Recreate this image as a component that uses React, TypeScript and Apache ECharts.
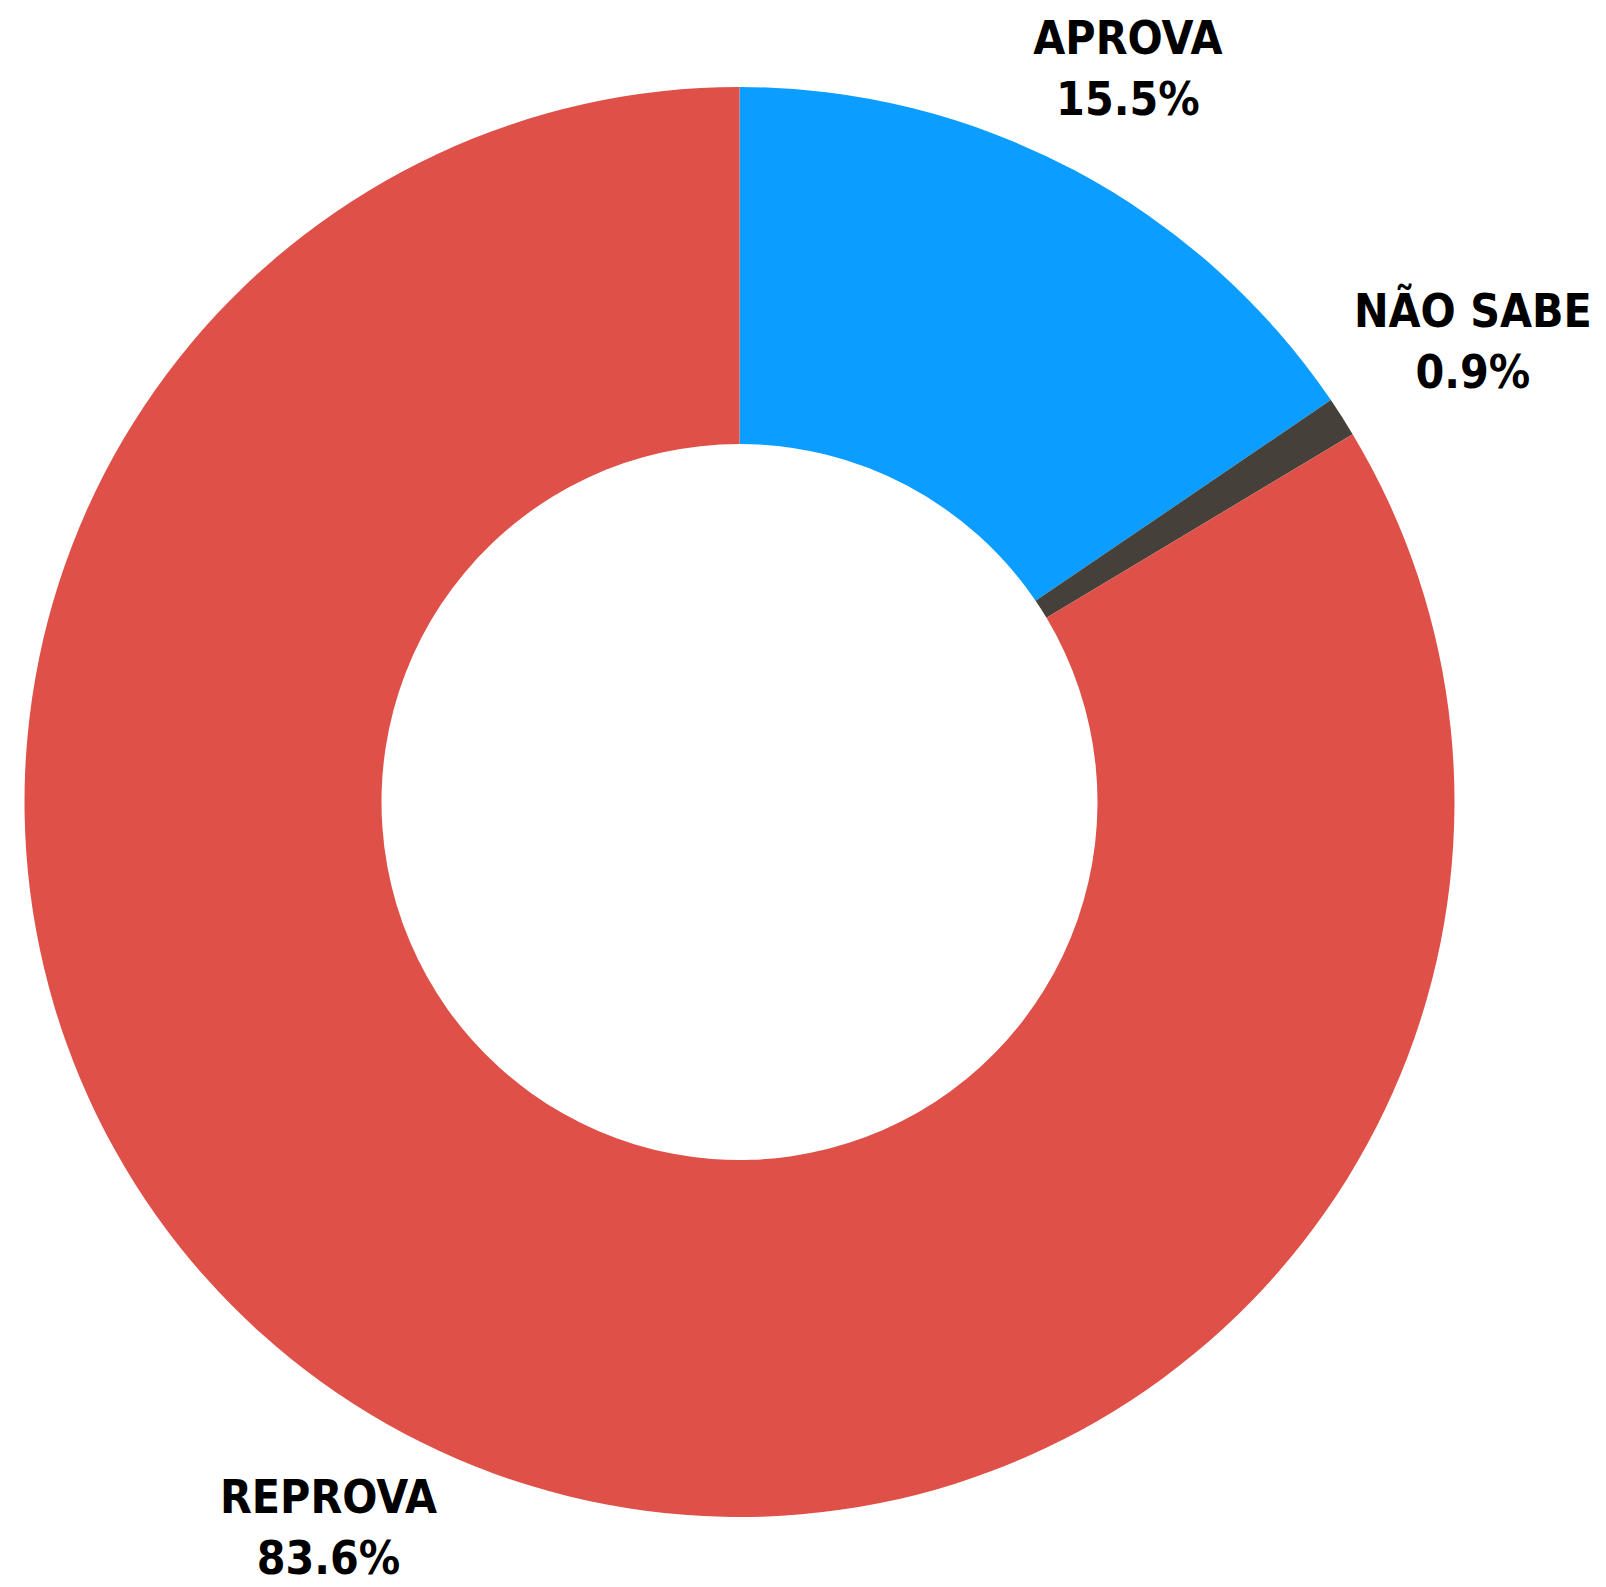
import React, { useEffect, useRef } from "react";
import * as echarts from "echarts";

const categories = ["APROVA", "NÃO SABE", "REPROVA"];
const values = [15.5, 0.9, 83.6];
const colors = ["#0B9DFF", "#46403A", "#DF5049"];

export default function App() {
  const ref = useRef<HTMLDivElement>(null);
  useEffect(() => {
    if (!ref.current) return;
    const chart = echarts.init(ref.current, undefined, { renderer: "svg" });
    const data = categories.map((name, i) => ({
      name,
      value: values[i],
      itemStyle: { color: colors[i] },
    }));
    const labelShift: Record<string, [number, number]> = {
      "NÃO SABE": [34, -14],
      REPROVA: [-2, 3],
    };
    chart.setOption({
      animation: false,
      backgroundColor: "#ffffff",
      series: [
        {
          type: "pie",
          center: [739.5, 802],
          radius: [358, 715],
          startAngle: 90,
          clockwise: true,
          silent: true,
          label: { show: false },
          labelLine: { show: false },
          emphasis: { disabled: true },
          data,
        },
        {
          type: "pie",
          center: [739.5, 802],
          radius: [715, 939],
          startAngle: 90,
          clockwise: true,
          silent: true,
          itemStyle: { color: "rgba(0,0,0,0)" },
          emphasis: { disabled: true },
          labelLine: { show: false },
          label: {
            show: true,
            position: "inside",
            formatter: (p: any) => `${p.name}\n${p.value.toFixed(1)}%`,
            color: "#000000",
            fontFamily: "DejaVu Sans Condensed",
            fontWeight: "bold",
            fontSize: 46,
            lineHeight: 61,
            align: "center",
          },
          labelLayout: (p: any) => {
            const name = categories[p.dataIndex];
            const s = labelShift[name];
            return s ? { dx: s[0], dy: s[1] } : {};
          },
          data: categories.map((name, i) => ({ name, value: values[i] })),
        },
      ],
    });
    return () => chart.dispose();
  }, []);
  return (
    <div
      ref={ref}
      style={{ position: "fixed", left: 0, top: 0, width: 1606, height: 1587 }}
    />
  );
}
